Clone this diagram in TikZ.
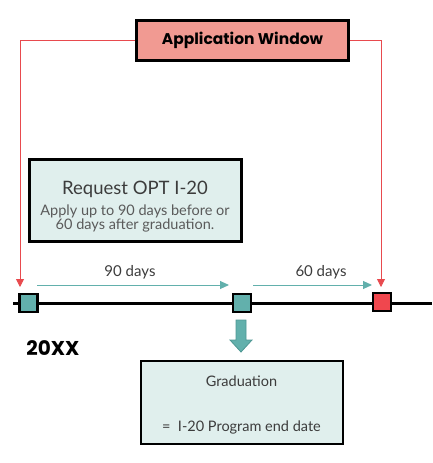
\documentclass[tikz,border=0pt]{standalone}
\usepackage{fontspec}
\setmainfont{Lato}
\newfontfamily\popfont{Poppins}
\usetikzlibrary{arrows.meta}
\definecolor{salmon}{HTML}{F19A92}
\definecolor{paleteal}{HTML}{E0EFED}
\definecolor{tealc}{HTML}{62B0AC}
\definecolor{tealdark}{HTML}{4E9793}
\definecolor{redsq}{HTML}{F0474E}
\definecolor{redline}{HTML}{E84A4E}
\definecolor{txtgray}{HTML}{3C3C3C}
\definecolor{subgray}{HTML}{5A5A5A}
\tikzset{
  boxstyle/.style={draw=black, line width=3pt, inner sep=0pt},
  sqstyle/.style={draw=black, line width=2.6pt, minimum size=18pt, inner sep=0pt},
  redconn/.style={draw=redline, line width=0.8pt, -{Triangle[length=8pt,width=8pt]}},
  tealconn/.style={draw=tealc, line width=1pt, -{Triangle[length=9pt,width=8pt]}},
  lbl/.style={font=\fontsize{15}{15}\selectfont, text=txtgray, inner sep=0pt},
}
\begin{document}
\begin{tikzpicture}[x=1pt,y=-1pt]
\useasboundingbox (0,0) rectangle (432,463);
% timeline
\coordinate (tl0) at (13,303);
\coordinate (tl1) at (432,303);
\draw[line width=3pt] (tl0) -- (tl1);
% boxes
\node[boxstyle, fill=salmon, minimum width=212pt, minimum height=40pt,
      font=\popfont\bfseries\fontsize{15.5}{15.5}\selectfont] (app) at (242.5,40.5) {Application Window};
\node[boxstyle, fill=paleteal, minimum width=212pt, minimum height=82pt] (req) at (135.5,200.5) {};
\node[lbl, font=\fontsize{18.5}{18.5}\selectfont, text=txtgray] (reqt) at (135,189) {Request OPT I-20};
\node[inner sep=0pt, text=subgray, align=center, font=\fontsize{14.5}{11}\selectfont] (reqs) at (135,218.5) {Apply up to 90 days before or\\60 days after graduation.};
\node[boxstyle, line width=2.6pt, fill=paleteal, minimum width=202pt, minimum height=83pt] (grad) at (242,402.5) {};
\node[lbl, font=\fontsize{14.5}{14.5}\selectfont] (gradt) at (241.5,381.5) {Graduation};
\node[lbl, font=\fontsize{14.5}{14.5}\selectfont] (grads) at (241.5,427) {=\ \ I-20 Program end date};
% squares
\node[sqstyle, fill=tealc] (sq1) at (28.5,303) {};
\node[sqstyle, fill=tealc] (sq2) at (242,303) {};
\node[sqstyle, fill=redsq] (sq3) at (382,302) {};
% red connectors
\coordinate (la) at (20,287);
\coordinate (ra) at (381,287);
\draw[redconn] (app.west) -| (la);
\draw[redconn] (app.east) -| (ra);
% teal arrows
\coordinate (a1s) at (37,285);
\coordinate (a1e) at (229,285);
\coordinate (a2s) at (253,285);
\coordinate (a2e) at (372,285);
\draw[tealconn] (a1s) -- (a1e);
\draw[tealconn] (a2s) -- (a2e);
\node[lbl] (d90) at (130,272) {90 days};
\node[lbl] (d60) at (321,272) {60 days};
% block arrow
\filldraw[fill=tealc, draw=tealdark, line width=0.8pt]
  (236,320) -- (246,320) -- (246,340) -- (252,340) -- (241,352) -- (230,340) -- (236,340) -- cycle;
% year
\node[inner sep=0pt, font=\popfont\bfseries\fontsize{20}{20}\selectfont] (yr) at (53,348) {20XX};
\end{tikzpicture}
\end{document}
